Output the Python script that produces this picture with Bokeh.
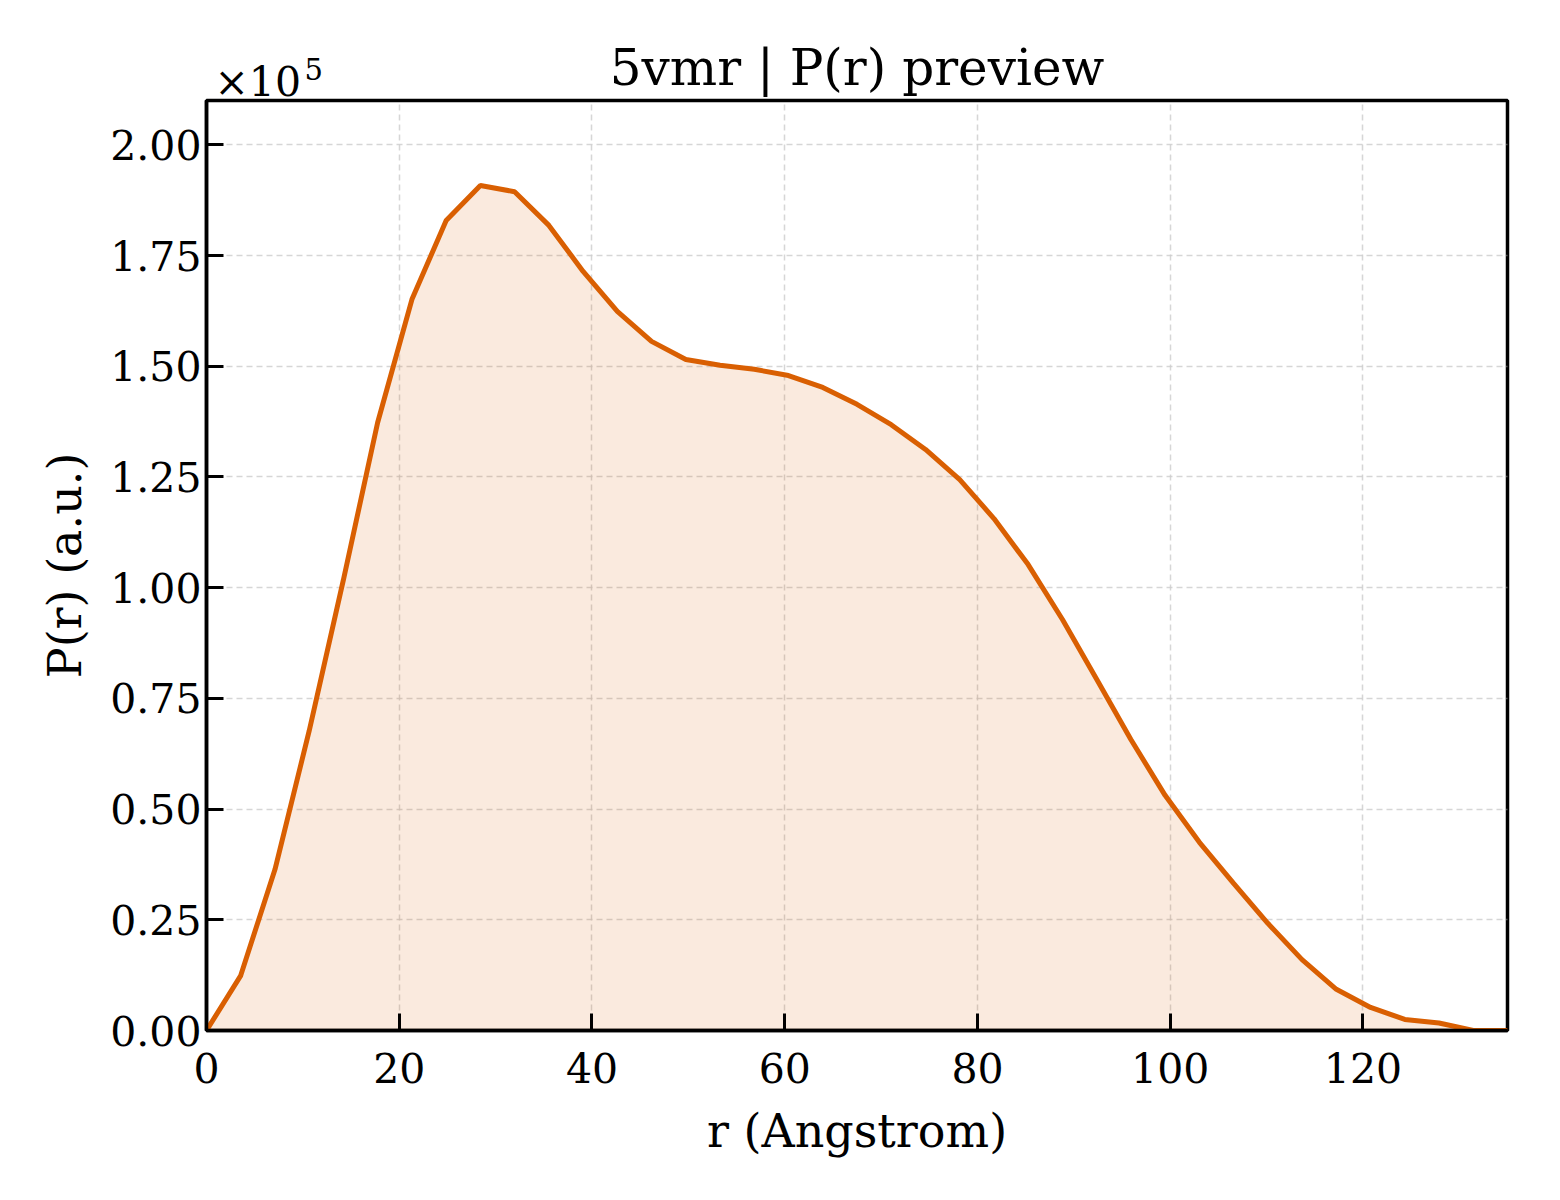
from bokeh.plotting import figure
from bokeh.models import ColumnDataSource, FixedTicker, CustomJSTickFormatter, Range1d, Title
from bokeh.embed import file_html
from bokeh.resources import INLINE

title_text = "5vmr | P(r) preview"
x_label = "r (Angstrom)"
y_label = "P(r) (a.u.)"
scale_base = "×10"
scale_exp = "5"

r_values = [0.0, 3.55, 7.11, 10.66, 14.21, 17.76, 21.32, 24.87, 28.42, 31.97,
            35.53, 39.08, 42.63, 46.18, 49.74, 53.29, 56.84, 60.39, 63.95, 67.5,
            71.05, 74.61, 78.16, 81.71, 85.26, 88.82, 92.37, 95.92, 99.47, 103.03,
            106.58, 110.13, 113.68, 117.24, 120.79, 124.34, 127.89, 131.45, 135.0]
pr_values = [0.0, 12400, 36400, 67700, 101800, 137300, 165100, 182900, 190800, 189400,
             181800, 171400, 162400, 155600, 151500, 150200, 149300, 147900, 145200, 141400,
             136800, 131200, 124400, 115600, 105200, 92800, 79300, 65700, 53100, 42500,
             33200, 24200, 16000, 9300, 5200, 2500, 1700, 0.0, 0.0]
x_ticks = [0, 20, 40, 60, 80, 100, 120]
y_ticks = [0, 25000, 50000, 75000, 100000, 125000, 150000, 175000, 200000]

FONT = "DejaVu Serif"
LINE = "#d95f02"

src = ColumnDataSource(dict(r=r_values, pr=pr_values, zero=[0.0] * len(r_values)))

p = figure(width=1544, height=1184, output_backend="svg", toolbar_location=None,
           x_range=Range1d(0, 135), y_range=Range1d(0, 210000),
           min_border_left=206, min_border_right=37, min_border_top=100, min_border_bottom=154)

p.varea(x="r", y1="zero", y2="pr", source=src, fill_color=LINE, fill_alpha=0.13)
p.line(x="r", y="pr", source=src, line_color=LINE, line_width=5)

# stacked titles in the top panel; negative standoffs let them share a row like matplotlib's offset text
scale_title = Title(text=scale_base, align="left", text_font=FONT, text_font_size="41px",
                    text_font_style="normal", text_color="black", standoff=-11, offset=8)
p.add_layout(scale_title, "above")
main_title = Title(text=title_text, align="center", text_font=FONT, text_font_size="50px",
                   text_font_style="normal", text_color="black", standoff=-70)
p.add_layout(main_title, "above")
exp_title = Title(text=scale_exp, align="left", text_font=FONT, text_font_size="29px",
                  text_font_style="normal", text_color="black", standoff=-36, offset=98)
p.add_layout(exp_title, "above")

p.xaxis.ticker = FixedTicker(ticks=x_ticks)
p.yaxis.ticker = FixedTicker(ticks=y_ticks)
p.yaxis.formatter = CustomJSTickFormatter(code="return (tick/1e5).toFixed(2);")
p.xaxis.axis_label = x_label
p.yaxis.axis_label = y_label

for ax in (p.xaxis, p.yaxis):
    ax.axis_label_text_font = FONT
    ax.axis_label_text_font_size = "46px"
    ax.axis_label_text_font_style = "normal"
    ax.axis_label_text_color = "black"
    ax.major_label_text_font = FONT
    ax.major_label_text_font_size = "41px"
    ax.major_label_text_color = "black"
    ax.major_tick_in = 17
    ax.major_tick_out = 0
    ax.minor_tick_in = 0
    ax.minor_tick_out = 0
    ax.major_tick_line_width = 3
    ax.axis_line_width = 3.5
    ax.axis_line_color = "black"

p.xaxis.major_label_standoff = 22
p.yaxis.major_label_standoff = 5
p.xaxis.axis_label_standoff = 18
p.yaxis.axis_label_standoff = 15

p.outline_line_color = "black"
p.outline_line_width = 3.5
p.outline_line_alpha = 1.0

for g in (p.xgrid, p.ygrid):
    g.grid_line_color = "#cccccc"
    g.grid_line_dash = "6 4"
    g.grid_line_width = 1.5
    g.grid_line_alpha = 0.8
p.xgrid.ticker = FixedTicker(ticks=x_ticks)
p.ygrid.ticker = FixedTicker(ticks=y_ticks)

open("out.html", "w").write(file_html(p, INLINE))
